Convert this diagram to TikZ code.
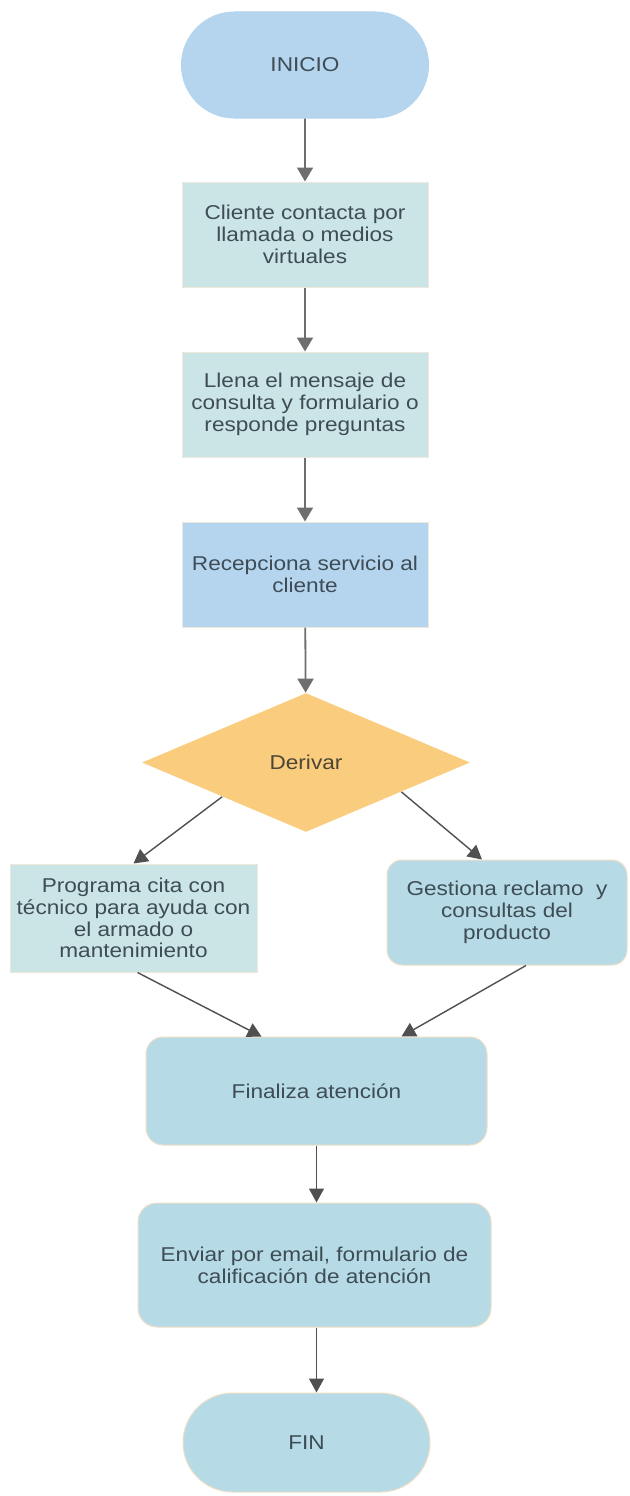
\documentclass[tikz,border=0pt]{standalone}
\usepackage{fontspec}
\setmainfont{Liberation Sans}[FakeStretch=1.13]
\usetikzlibrary{shapes.geometric,shapes.misc,arrows.meta,calc}
\definecolor{txt}{HTML}{3E4C55}
\definecolor{dtxt}{HTML}{4D4535}
\definecolor{blueA}{HTML}{B5D5EE}
\definecolor{tealA}{HTML}{CBE5E6}
\definecolor{tealB}{HTML}{B6DBE6}
\definecolor{orng}{HTML}{F9CD7D}
\definecolor{edge}{HTML}{EEE8DC}
\definecolor{edgeB}{HTML}{F0DFC6}
\definecolor{agray}{HTML}{6E6E6E}
\definecolor{adark}{HTML}{505050}
\begin{document}
\begin{tikzpicture}[x=1pt,y=1pt,
  base/.style={font=\fontsize{20}{21.7}\selectfont, text=txt, align=center, inner sep=0pt, line width=1pt},
  term/.style={base, rounded rectangle, minimum width=247pt, minimum height=106pt},
  rbox/.style={base, rectangle, draw=edge, minimum width=246pt, minimum height=105pt},
  rrbox/.style={base, rectangle, rounded corners=15pt, draw=edgeB, fill=tealB},
  dec/.style={base, diamond, fill=orng, minimum width=328pt, minimum height=139pt, text=dtxt},
  arr/.style={-{Triangle[width=16pt,length=14pt]}, line width=1.8pt, draw=agray},
  darr/.style={-{Triangle[width=15pt,length=14pt]}, line width=1.4pt, draw=adark},
]
\useasboundingbox[fill=white] (0,0) rectangle (629,-1496);

\node[term, fill=blueA, draw=blueA] (ini) at (305,-65) {INICIO};
\node[rbox, fill=tealA] (b1) at (305,-234.5) {Cliente contacta por\\llamada o medios\\virtuales};
\node[rbox, fill=tealA] (b2) at (305,-404.5) {Llena el mensaje de\\consulta y formulario o\\responde preguntas};
\node[rbox, fill=blueA] (b3) at (305,-574.5) {Recepciona servicio al\\cliente};
\node[dec] (dia) at (306,-762.5) {Derivar};
\node[rbox, fill=tealA, minimum width=247pt, minimum height=108pt] (lft) at (133.5,-918) {Programa cita con\\técnico para ayuda con\\el armado o\\mantenimiento};
\node[rrbox, minimum width=240pt, minimum height=105pt] (rgt) at (507,-912.5) {Gestiona reclamo\ \ y\\consultas del\\producto};
\node[rrbox, minimum width=341pt, minimum height=108pt, rounded corners=17pt] (fin) at (316.5,-1091) {Finaliza atención};
\node[rrbox, minimum width=353pt, minimum height=124pt, rounded corners=19pt] (env) at (314.5,-1265) {Enviar por email, formulario de\\calificación de atención};
\node[term, fill=tealB, draw=edgeB, minimum height=99pt] (end) at (306.5,-1442.5) {FIN};

\draw[arr] (ini) -- (b1);
\draw[arr] (b1) -- (b2);
\draw[arr] (b2) -- (b3);
\draw[arr] (b3) -- (dia);
\draw[darr] ($(dia.west)!0.49!(dia.south)$) -- (lft.north);
\draw[darr] ($(dia.south)!0.58!(dia.east)$) -- ([xshift=-25pt]rgt.north);
\draw[darr] ([xshift=4pt]lft.south) -- ([xshift=-55pt]fin.north);
\draw[darr] ([xshift=19pt]rgt.south) -- ([xshift=85pt]fin.north);
\draw[darr] (fin.south) -- (fin.south |- env.north);
\draw[darr] (env.south -| fin.south) -- (fin.south |- end.north);
\end{tikzpicture}
\end{document}
